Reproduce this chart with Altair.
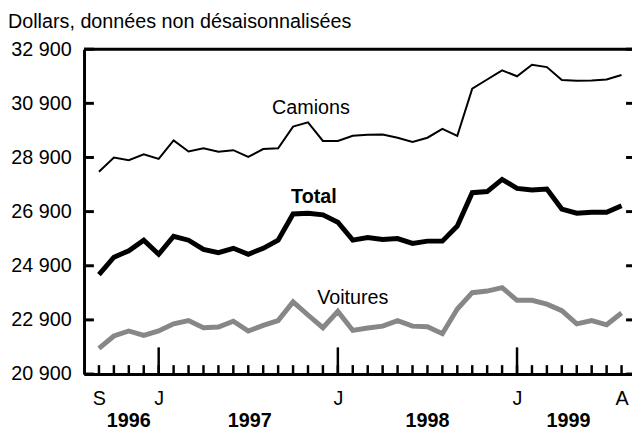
import altair as alt
import pandas as pd

FONT = "Liberation Sans"

months = ["S96", "O96", "N96", "D96",
          "J97", "F97", "M97", "A97", "M97", "J97", "J97", "A97", "S97", "O97", "N97", "D97",
          "J98", "F98", "M98", "A98", "M98", "J98", "J98", "A98", "S98", "O98", "N98", "D98",
          "J99", "F99", "M99", "A99", "M99", "J99", "J99", "A99"]
idx = list(range(len(months)))

camions = [28370, 28900, 28800, 29020, 28850, 29530, 29120, 29240, 29110, 29170, 28920, 29210,
           29240, 30040, 30200, 29510, 29510, 29700, 29740, 29750, 29630, 29470, 29630, 29955,
           29700, 31445, 31780, 32120, 31900, 32325, 32240, 31760, 31735, 31745, 31780, 31945]
total = [24570, 25215, 25455, 25845, 25325, 25990, 25845, 25505, 25385, 25545, 25325, 25545,
         25845, 26815, 26840, 26780, 26510, 25845, 25945, 25870, 25905, 25725, 25810, 25810,
         26365, 27600, 27640, 28090, 27760, 27700, 27735, 26995, 26840, 26875, 26875, 27120]
voitures = [21845, 22305, 22490, 22330, 22490, 22755, 22875, 22610, 22635, 22850, 22490, 22695,
            22875, 23565, 23080, 22610, 23215, 22510, 22600, 22670, 22875, 22670, 22645, 22390,
            23300, 23905, 23965, 24090, 23625, 23625, 23480, 23240, 22755, 22875, 22720, 23155]

y_ticks = [20900, 22900, 24900, 26900, 28900, 30900, 32900]
x_label_idx = [0, 4, 16, 28, 35]
x_label_text = ["S", "J", "J", "J", "A"]
jan_idx = [4, 16, 28]
years = ["1996", "1997", "1998", "1999"]
year_pos = [2.0, 10.1, 22.0, 31.45]
label_text = ["Camions", "Total", "Voitures"]
label_x = [14.2, 14.4, 17.0]
label_y = [30490, 27210, 23490]
label_weight = ["normal", "bold", "normal"]
title_text = "Dollars, données non désaisonnalisées"

W, H = 555, 329

xscale = alt.Scale(domain=[-1, 35.7], nice=False, zero=False)
yscale = alt.Scale(domain=[20900, 32900], nice=False, zero=False)

df = pd.DataFrame({"i": idx, "m": months, "Camions": camions, "Total": total, "Voitures": voitures})

label_expr = "".join(
    f"datum.value == {v} ? '{t}' : " for v, t in zip(x_label_idx, x_label_text)
) + "''"

x_axis = alt.Axis(values=x_label_idx, labelExpr=label_expr, ticks=False, tickSize=0,
                  domain=True, domainColor="black", domainWidth=3, grid=False,
                  labelFontSize=20, labelFont=FONT, labelColor="black", labelPadding=15,
                  title=None, labelFlush=False, labelOverlap=False)
y_axis = alt.Axis(values=y_ticks, labelExpr="replace(format(datum.value, ','), ',', ' ')",
                  ticks=False, tickSize=0, domain=True, domainColor="black", domainWidth=3,
                  grid=False, labelFontSize=20, labelFont=FONT, labelColor="black",
                  labelPadding=13, title=None, labelOverlap=False)

def X(field):
    return alt.X(field, scale=xscale, axis=x_axis)

def Y(field):
    return alt.Y(field, scale=yscale, axis=y_axis)

base = alt.Chart(df)

def line(col, color, width):
    return base.mark_line(color=color, strokeWidth=width, strokeJoin="miter").encode(
        x=X("i:Q"), y=Y(f"{col}:Q"))

voit_line = line("Voitures", "#878787", 5)
total_line = line("Total", "black", 5)
cam_line = line("Camions", "black", 2)

ticks_df = pd.DataFrame({"v": y_ticks})
left_ticks = alt.Chart(ticks_df).mark_rule(color="black", strokeWidth=3).encode(
    y=Y("v:Q"), x=alt.value(0), x2=alt.value(10))
right_ticks = alt.Chart(ticks_df).mark_rule(color="black", strokeWidth=3).encode(
    y=Y("v:Q"), x=alt.value(W - 6), x2=alt.value(W))

small_df = pd.DataFrame({"i": idx})
small_ticks = alt.Chart(small_df).mark_rule(color="black", strokeWidth=2.5).encode(
    x=X("i:Q"), y=alt.value(H), y2=alt.value(H - 9))
big_df = pd.DataFrame({"i": jan_idx})
big_ticks = alt.Chart(big_df).mark_rule(color="black", strokeWidth=2.5).encode(
    x=X("i:Q"), y=alt.value(H), y2=alt.value(H - 27))

one_df = pd.DataFrame({"t": [title_text]})
top_rule = alt.Chart(one_df).mark_rule(color="black", strokeWidth=3).encode(
    x=alt.value(0), x2=alt.value(W), y=alt.value(0))

year_df = pd.DataFrame({"i": year_pos, "t": years})
year_text = alt.Chart(year_df).mark_text(font=FONT, fontSize=20, fontWeight="bold",
                                         baseline="alphabetic", color="black").encode(
    x=X("i:Q"), y=alt.value(H + 54), text="t:N")

lab_df = pd.DataFrame({"i": label_x, "v": label_y, "t": label_text, "w": label_weight})
labels = []
for w in ["normal", "bold"]:
    labels.append(alt.Chart(lab_df[lab_df.w == w]).mark_text(
        font=FONT, fontSize=20, fontWeight=w, baseline="alphabetic", color="black").encode(
        x=X("i:Q"), y=Y("v:Q"), text="t:N"))

title = alt.Chart(one_df).mark_text(font=FONT, fontSize=20, align="left",
                                    baseline="alphabetic", color="black").encode(
    x=alt.value(-77), y=alt.value(-21), text="t:N")

chart = alt.layer(
    voit_line, total_line, cam_line, left_ticks, right_ticks, small_ticks, big_ticks,
    top_rule, year_text, *labels, title
).properties(
    width=W, height=H,
    autosize=alt.AutoSizeParams(type="none"),
    padding={"left": 77, "top": 39, "right": 0, "bottom": 57},
).configure_view(stroke=None).configure(background="white")

chart.save("out.html", embed_options={"renderer": "svg", "actions": False})
